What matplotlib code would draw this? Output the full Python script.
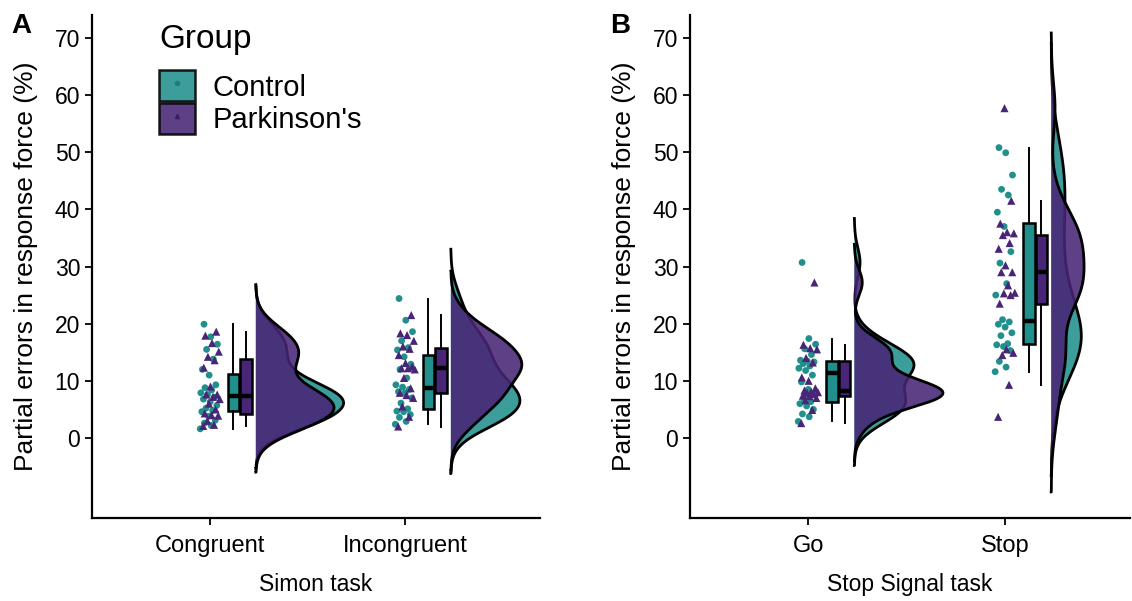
import matplotlib.pyplot as plt
import numpy as np
from matplotlib.patches import Patch
from matplotlib.lines import Line2D
from matplotlib.legend_handler import HandlerTuple

plt.rcParams['font.family'] = ['Liberation Sans', 'DejaVu Sans']

TEAL = '#21908C'
PURPLE = '#482576'
ALPHA = 0.88

groups = ["Control", "Parkinson's"]
simon_conditions = ["Congruent", "Incongruent"]
stop_conditions = ["Go", "Stop"]

# partial errors in response force (%), one value per participant
congruent_control = [1.6, 2.2, 2.6, 3.1, 3.8, 4.6, 4.8, 5.2, 5.7, 6.3, 6.8, 7.1,
                     7.6, 7.9, 8.4, 8.8, 9.3, 11.0, 12.0, 13.8, 15.5, 16.4, 17.7, 19.9]
congruent_pd = [2.1, 2.3, 3.0, 3.9, 4.0, 4.3, 5.0, 6.0, 6.8, 7.2, 7.6, 7.6, 9.0,
                12.3, 13.6, 14.2, 15.1, 16.6, 17.9, 18.6]
incongruent_control = [2.4, 2.9, 3.6, 4.1, 4.6, 4.7, 5.1, 6.1, 7.0, 7.9, 8.1, 8.5,
                       8.9, 9.3, 10.5, 12.0, 12.9, 14.2, 15.4, 15.8, 17.0, 18.6, 20.6, 24.4]
incongruent_pd = [2.0, 3.7, 5.5, 7.0, 7.5, 7.9, 8.7, 10.5, 12.0, 12.2, 12.2, 12.5,
                  13.1, 14.5, 15.6, 16.0, 17.0, 18.0, 18.3, 21.5]
go_control = [2.9, 3.7, 4.2, 5.0, 5.6, 6.0, 6.35, 6.8, 7.5, 8.5, 9.8, 11.0, 11.8,
              12.2, 12.6, 13.0, 13.3, 13.45, 13.6, 14.6, 15.6, 16.4, 17.4, 30.7]
go_pd = [2.6, 4.9, 6.6, 7.0, 7.3, 7.4, 7.7, 7.9, 8.0, 8.1, 8.3, 8.7, 10.0, 10.6,
         13.2, 14.0, 15.5, 15.7, 16.3, 27.2]
stop_control = [11.6, 12.4, 13.4, 15.3, 16.0, 16.3, 16.5, 17.9, 18.4, 19.4, 19.9, 20.3,
                20.7, 25.0, 27.0, 30.6, 32.6, 37.0, 39.5, 42.5, 43.5, 46.0, 49.9, 50.8]
stop_pd = [3.7, 9.3, 14.5, 14.9, 15.5, 23.5, 25.0, 25.3, 25.4, 26.7, 29.0, 29.0,
           30.2, 33.1, 34.1, 35.5, 35.8, 36.0, 37.5, 41.5, 57.7]


def kde_nrd0(values, cut=3, n=512):
    """gaussian density like R's density() with bw.nrd0, not trimmed"""
    v = np.asarray(values, dtype=float)
    q1, q3 = np.percentile(v, [25, 75])
    bw = 0.9 * min(v.std(ddof=1), (q3 - q1) / 1.34) * len(v) ** -0.2
    grid = np.linspace(v.min() - cut * bw, v.max() + cut * bw, n)
    dens = np.exp(-0.5 * ((grid[:, None] - v[None, :]) / bw) ** 2).sum(axis=1)
    dens /= len(v) * bw * np.sqrt(2 * np.pi)
    return grid, dens


def jitter(n, width=0.045):
    # fixed spread so the points do not sit on top of each other
    return width * (((np.arange(n) * 0.618034) % 1.0) * 2 - 1)


def draw_panel(ax, conditions, data, xlabel, xlim):
    colors = [TEAL, PURPLE]
    markers = ['o', '^']
    box_off = [0.12, 0.185]
    violin_base = 0.235

    densities = []
    for i, cond in enumerate(conditions):
        for g in range(2):
            densities.append((i + 1, g, kde_nrd0(data[i][g])))
    dmax = max(d[2][1].max() for d in densities)

    for i, cond in enumerate(conditions):
        x = i + 1
        for g in range(2):
            vals = np.asarray(data[i][g])
            ax.scatter(x + jitter(len(vals)) + (0.01 if g else -0.005), vals,
                       s=34 if g else 24, marker=markers[g], color=colors[g],
                       edgecolors='none', zorder=3)
            bp = ax.boxplot(vals, positions=[x + box_off[g]], widths=0.06,
                            patch_artist=True, showfliers=False, whis=1.5,
                            manage_ticks=False, zorder=4)
            for b in bp['boxes']:
                b.set(facecolor=colors[g], alpha=1, edgecolor='black', linewidth=1.8)
            for w in bp['whiskers']:
                w.set(color='black', linewidth=1.4)
            for c in bp['caps']:
                c.set(visible=False)
            for m in bp['medians']:
                m.set(color='black', linewidth=3.2)

    for x, g, (grid, dens) in densities:
        base = x + violin_base
        xs = np.concatenate([[base], base + 0.45 * dens / dmax, [base]])
        ys = np.concatenate([[grid[0]], grid, [grid[-1]]])
        ax.fill(xs, ys, facecolor=[TEAL, PURPLE][g], alpha=ALPHA,
                edgecolor='none', zorder=5 + g)
        ax.plot(xs, ys, color='black', linewidth=2.0, zorder=5 + g,
                solid_joinstyle='round')

    ax.set_xlim(*xlim)
    ax.set_ylim(-14, 74)
    ax.set_xticks([1, 2])
    ax.set_xticklabels(conditions)
    ax.set_yticks(np.arange(0, 80, 10))
    ax.set_xlabel(xlabel, fontsize=16.5, labelpad=12)
    ax.set_ylabel('Partial errors in response force (%)', fontsize=19, labelpad=12)
    ax.tick_params(labelsize=16.5, length=5, width=1.3, colors='black')
    ax.tick_params(axis='x', labelsize=17, pad=7)
    for side in ['top', 'right']:
        ax.spines[side].set_visible(False)
    for side in ['left', 'bottom']:
        ax.spines[side].set_linewidth(1.6)


fig = plt.figure(figsize=(11.32, 6.01), dpi=100)
axA = fig.add_axes([92 / 1132, 83 / 601, 448 / 1132, 503 / 601])
axB = fig.add_axes([690 / 1132, 83 / 601, 440 / 1132, 503 / 601])

draw_panel(axA, simon_conditions,
           [[congruent_control, congruent_pd], [incongruent_control, incongruent_pd]],
           'Simon task', (0.395, 2.692))
draw_panel(axB, stop_conditions,
           [[go_control, go_pd], [stop_control, stop_pd]],
           'Stop Signal task', (0.4, 2.635))

fig.text(11 / 1132, 1 - 26 / 601, 'A', fontsize=20, fontweight='bold', va='center')
fig.text(610 / 1132, 1 - 26 / 601, 'B', fontsize=20, fontweight='bold', va='center')

handles = [(Patch(facecolor=TEAL, alpha=ALPHA, edgecolor='black', linewidth=1.8),
            Line2D([], [], marker='o', color='#1d7f7b', ls='', ms=3)),
           (Patch(facecolor=PURPLE, alpha=ALPHA, edgecolor='black', linewidth=1.8),
            Line2D([], [], marker='^', color='#3b1f63', ls='', ms=3))]
leg = fig.legend(handles, groups, title='Group', loc='upper left',
                 bbox_to_anchor=(159 / 1132, 1 - 24 / 601), frameon=False, fontsize=21,
                 title_fontsize=24, handlelength=1.25, handleheight=1.25,
                 handletextpad=0.6, labelspacing=0.05, borderpad=0, borderaxespad=0,
                 handler_map={tuple: HandlerTuple(ndivide=1)})
leg._legend_box.align = 'left'
leg._legend_box.sep = 11

fig.savefig('out.png', dpi=100)
